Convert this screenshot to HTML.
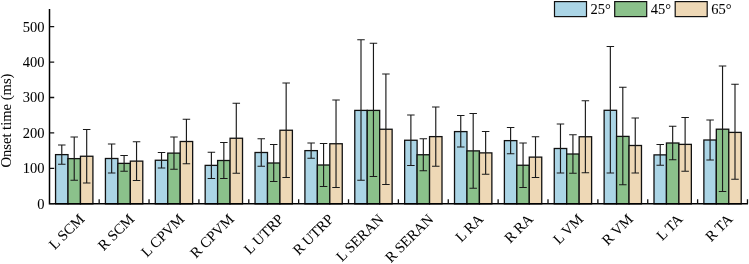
<!DOCTYPE html>
<html><head><meta charset="utf-8"><style>
html,body{margin:0;padding:0;background:#fff;width:749px;height:264px;overflow:hidden;}
svg{display:block;font-family:"Liberation Serif",serif;}
</style></head><body>
<svg width="749" height="264" viewBox="0 0 749 264">
<rect width="749" height="264" fill="#fff"/>
<g><rect x="55.56" y="154.62" width="12.45" height="49.22" fill="#abd5e6" stroke="#111" stroke-width="1.3"/><rect x="68.01" y="158.62" width="12.45" height="45.22" fill="#8bc18b" stroke="#111" stroke-width="1.3"/><rect x="80.46" y="156.25" width="12.45" height="47.60" fill="#eed8b6" stroke="#111" stroke-width="1.3"/><rect x="105.43" y="158.50" width="12.45" height="45.35" fill="#abd5e6" stroke="#111" stroke-width="1.3"/><rect x="117.88" y="163.38" width="12.45" height="40.47" fill="#8bc18b" stroke="#111" stroke-width="1.3"/><rect x="130.33" y="161.12" width="12.45" height="42.72" fill="#eed8b6" stroke="#111" stroke-width="1.3"/><rect x="155.30" y="160.25" width="12.45" height="43.60" fill="#abd5e6" stroke="#111" stroke-width="1.3"/><rect x="167.75" y="153.12" width="12.45" height="50.72" fill="#8bc18b" stroke="#111" stroke-width="1.3"/><rect x="180.20" y="141.50" width="12.45" height="62.35" fill="#eed8b6" stroke="#111" stroke-width="1.3"/><rect x="205.17" y="165.38" width="12.45" height="38.47" fill="#abd5e6" stroke="#111" stroke-width="1.3"/><rect x="217.62" y="160.50" width="12.45" height="43.35" fill="#8bc18b" stroke="#111" stroke-width="1.3"/><rect x="230.07" y="138.25" width="12.45" height="65.60" fill="#eed8b6" stroke="#111" stroke-width="1.3"/><rect x="255.04" y="152.50" width="12.45" height="51.35" fill="#abd5e6" stroke="#111" stroke-width="1.3"/><rect x="267.49" y="163.00" width="12.45" height="40.85" fill="#8bc18b" stroke="#111" stroke-width="1.3"/><rect x="279.94" y="130.25" width="12.45" height="73.60" fill="#eed8b6" stroke="#111" stroke-width="1.3"/><rect x="304.91" y="150.62" width="12.45" height="53.22" fill="#abd5e6" stroke="#111" stroke-width="1.3"/><rect x="317.36" y="165.00" width="12.45" height="38.85" fill="#8bc18b" stroke="#111" stroke-width="1.3"/><rect x="329.81" y="143.75" width="12.45" height="60.10" fill="#eed8b6" stroke="#111" stroke-width="1.3"/><rect x="354.78" y="110.40" width="12.45" height="93.45" fill="#abd5e6" stroke="#111" stroke-width="1.3"/><rect x="367.23" y="110.40" width="12.45" height="93.45" fill="#8bc18b" stroke="#111" stroke-width="1.3"/><rect x="379.68" y="129.25" width="12.45" height="74.60" fill="#eed8b6" stroke="#111" stroke-width="1.3"/><rect x="404.65" y="140.25" width="12.45" height="63.60" fill="#abd5e6" stroke="#111" stroke-width="1.3"/><rect x="417.10" y="154.75" width="12.45" height="49.10" fill="#8bc18b" stroke="#111" stroke-width="1.3"/><rect x="429.55" y="136.62" width="12.45" height="67.22" fill="#eed8b6" stroke="#111" stroke-width="1.3"/><rect x="454.52" y="131.60" width="12.45" height="72.25" fill="#abd5e6" stroke="#111" stroke-width="1.3"/><rect x="466.97" y="150.88" width="12.45" height="52.97" fill="#8bc18b" stroke="#111" stroke-width="1.3"/><rect x="479.42" y="152.88" width="12.45" height="50.97" fill="#eed8b6" stroke="#111" stroke-width="1.3"/><rect x="504.39" y="140.62" width="12.45" height="63.22" fill="#abd5e6" stroke="#111" stroke-width="1.3"/><rect x="516.84" y="165.25" width="12.45" height="38.60" fill="#8bc18b" stroke="#111" stroke-width="1.3"/><rect x="529.29" y="157.12" width="12.45" height="46.72" fill="#eed8b6" stroke="#111" stroke-width="1.3"/><rect x="554.26" y="148.50" width="12.45" height="55.35" fill="#abd5e6" stroke="#111" stroke-width="1.3"/><rect x="566.71" y="154.00" width="12.45" height="49.85" fill="#8bc18b" stroke="#111" stroke-width="1.3"/><rect x="579.16" y="136.75" width="12.45" height="67.10" fill="#eed8b6" stroke="#111" stroke-width="1.3"/><rect x="604.13" y="110.30" width="12.45" height="93.55" fill="#abd5e6" stroke="#111" stroke-width="1.3"/><rect x="616.58" y="136.40" width="12.45" height="67.45" fill="#8bc18b" stroke="#111" stroke-width="1.3"/><rect x="629.03" y="145.50" width="12.45" height="58.35" fill="#eed8b6" stroke="#111" stroke-width="1.3"/><rect x="654.00" y="154.88" width="12.45" height="48.97" fill="#abd5e6" stroke="#111" stroke-width="1.3"/><rect x="666.45" y="143.00" width="12.45" height="60.85" fill="#8bc18b" stroke="#111" stroke-width="1.3"/><rect x="678.90" y="144.38" width="12.45" height="59.47" fill="#eed8b6" stroke="#111" stroke-width="1.3"/><rect x="703.87" y="140.00" width="12.45" height="63.85" fill="#abd5e6" stroke="#111" stroke-width="1.3"/><rect x="716.32" y="129.20" width="12.45" height="74.65" fill="#8bc18b" stroke="#111" stroke-width="1.3"/><rect x="728.77" y="132.40" width="12.45" height="71.45" fill="#eed8b6" stroke="#111" stroke-width="1.3"/><path d="M61.78 145.00V164.25M58.03 145.00H65.53M58.03 164.25H65.53" stroke="#1a1a1a" stroke-width="1.15" fill="none"/><path d="M74.23 137.00V180.25M70.48 137.00H77.98M70.48 180.25H77.98" stroke="#1a1a1a" stroke-width="1.15" fill="none"/><path d="M86.69 129.50V183.00M82.94 129.50H90.44M82.94 183.00H90.44" stroke="#1a1a1a" stroke-width="1.15" fill="none"/><path d="M111.65 144.00V173.00M107.90 144.00H115.40M107.90 173.00H115.40" stroke="#1a1a1a" stroke-width="1.15" fill="none"/><path d="M124.10 155.50V171.25M120.35 155.50H127.85M120.35 171.25H127.85" stroke="#1a1a1a" stroke-width="1.15" fill="none"/><path d="M136.55 141.75V180.50M132.80 141.75H140.30M132.80 180.50H140.30" stroke="#1a1a1a" stroke-width="1.15" fill="none"/><path d="M161.53 152.50V168.00M157.78 152.50H165.28M157.78 168.00H165.28" stroke="#1a1a1a" stroke-width="1.15" fill="none"/><path d="M173.97 137.00V169.25M170.22 137.00H177.72M170.22 169.25H177.72" stroke="#1a1a1a" stroke-width="1.15" fill="none"/><path d="M186.42 119.25V163.75M182.67 119.25H190.17M182.67 163.75H190.17" stroke="#1a1a1a" stroke-width="1.15" fill="none"/><path d="M211.39 152.25V178.50M207.64 152.25H215.14M207.64 178.50H215.14" stroke="#1a1a1a" stroke-width="1.15" fill="none"/><path d="M223.84 142.50V178.50M220.09 142.50H227.59M220.09 178.50H227.59" stroke="#1a1a1a" stroke-width="1.15" fill="none"/><path d="M236.29 103.25V173.25M232.54 103.25H240.04M232.54 173.25H240.04" stroke="#1a1a1a" stroke-width="1.15" fill="none"/><path d="M261.26 138.75V166.25M257.51 138.75H265.01M257.51 166.25H265.01" stroke="#1a1a1a" stroke-width="1.15" fill="none"/><path d="M273.71 144.50V181.50M269.96 144.50H277.46M269.96 181.50H277.46" stroke="#1a1a1a" stroke-width="1.15" fill="none"/><path d="M286.16 83.00V177.50M282.41 83.00H289.91M282.41 177.50H289.91" stroke="#1a1a1a" stroke-width="1.15" fill="none"/><path d="M311.13 143.00V158.25M307.38 143.00H314.88M307.38 158.25H314.88" stroke="#1a1a1a" stroke-width="1.15" fill="none"/><path d="M323.58 143.50V186.50M319.83 143.50H327.33M319.83 186.50H327.33" stroke="#1a1a1a" stroke-width="1.15" fill="none"/><path d="M336.03 100.00V187.50M332.28 100.00H339.78M332.28 187.50H339.78" stroke="#1a1a1a" stroke-width="1.15" fill="none"/><path d="M361.00 39.75V180.25M357.25 39.75H364.75M357.25 180.25H364.75" stroke="#1a1a1a" stroke-width="1.15" fill="none"/><path d="M373.45 43.25V176.50M369.70 43.25H377.20M369.70 176.50H377.20" stroke="#1a1a1a" stroke-width="1.15" fill="none"/><path d="M385.90 74.00V184.50M382.15 74.00H389.65M382.15 184.50H389.65" stroke="#1a1a1a" stroke-width="1.15" fill="none"/><path d="M410.88 115.00V165.50M407.12 115.00H414.62M407.12 165.50H414.62" stroke="#1a1a1a" stroke-width="1.15" fill="none"/><path d="M423.32 138.75V170.75M419.57 138.75H427.07M419.57 170.75H427.07" stroke="#1a1a1a" stroke-width="1.15" fill="none"/><path d="M435.77 107.00V166.25M432.02 107.00H439.52M432.02 166.25H439.52" stroke="#1a1a1a" stroke-width="1.15" fill="none"/><path d="M460.75 115.50V147.00M457.00 115.50H464.50M457.00 147.00H464.50" stroke="#1a1a1a" stroke-width="1.15" fill="none"/><path d="M473.19 113.50V188.25M469.44 113.50H476.94M469.44 188.25H476.94" stroke="#1a1a1a" stroke-width="1.15" fill="none"/><path d="M485.64 131.50V174.25M481.89 131.50H489.39M481.89 174.25H489.39" stroke="#1a1a1a" stroke-width="1.15" fill="none"/><path d="M510.61 127.50V153.75M506.86 127.50H514.37M506.86 153.75H514.37" stroke="#1a1a1a" stroke-width="1.15" fill="none"/><path d="M523.06 143.00V187.50M519.31 143.00H526.81M519.31 187.50H526.81" stroke="#1a1a1a" stroke-width="1.15" fill="none"/><path d="M535.51 136.75V177.50M531.76 136.75H539.26M531.76 177.50H539.26" stroke="#1a1a1a" stroke-width="1.15" fill="none"/><path d="M560.48 124.00V173.00M556.73 124.00H564.23M556.73 173.00H564.23" stroke="#1a1a1a" stroke-width="1.15" fill="none"/><path d="M572.93 134.75V173.25M569.18 134.75H576.68M569.18 173.25H576.68" stroke="#1a1a1a" stroke-width="1.15" fill="none"/><path d="M585.38 100.75V172.75M581.63 100.75H589.13M581.63 172.75H589.13" stroke="#1a1a1a" stroke-width="1.15" fill="none"/><path d="M610.35 46.50V173.00M606.60 46.50H614.10M606.60 173.00H614.10" stroke="#1a1a1a" stroke-width="1.15" fill="none"/><path d="M622.80 87.25V184.75M619.05 87.25H626.55M619.05 184.75H626.55" stroke="#1a1a1a" stroke-width="1.15" fill="none"/><path d="M635.25 118.00V173.00M631.50 118.00H639.00M631.50 173.00H639.00" stroke="#1a1a1a" stroke-width="1.15" fill="none"/><path d="M660.22 144.50V165.25M656.47 144.50H663.97M656.47 165.25H663.97" stroke="#1a1a1a" stroke-width="1.15" fill="none"/><path d="M672.67 126.25V159.75M668.92 126.25H676.42M668.92 159.75H676.42" stroke="#1a1a1a" stroke-width="1.15" fill="none"/><path d="M685.12 117.50V171.25M681.38 117.50H688.88M681.38 171.25H688.88" stroke="#1a1a1a" stroke-width="1.15" fill="none"/><path d="M710.09 120.00V160.00M706.34 120.00H713.84M706.34 160.00H713.84" stroke="#1a1a1a" stroke-width="1.15" fill="none"/><path d="M722.54 66.00V191.50M718.79 66.00H726.29M718.79 191.50H726.29" stroke="#1a1a1a" stroke-width="1.15" fill="none"/><path d="M735.00 84.25V179.25M731.25 84.25H738.75M731.25 179.25H738.75" stroke="#1a1a1a" stroke-width="1.15" fill="none"/></g>
<path d="M49.5 9V204.54999999999998M48.8 203.85H748" stroke="#000" stroke-width="1.5" fill="none"/><path d="M49.5 203.70H54.2M49.5 168.30H54.2M49.5 132.90H54.2M49.5 97.50H54.2M49.5 62.10H54.2M49.5 26.70H54.2M99.17 203.85V199.2M149.04 203.85V199.2M198.91 203.85V199.2M248.78 203.85V199.2M298.65 203.85V199.2M348.52 203.85V199.2M398.39 203.85V199.2M448.26 203.85V199.2M498.13 203.85V199.2M548.00 203.85V199.2M597.87 203.85V199.2M647.74 203.85V199.2M697.61 203.85V199.2M747.48 203.85V199.2" stroke="#111" stroke-width="1.3" fill="none"/>
<g opacity="0.999" font-family="Liberation Serif" font-size="14.5" fill="#000" stroke="#000" stroke-width="0.06"><text x="44.4" y="208.60" text-anchor="end">0</text><text x="44.4" y="173.20" text-anchor="end">100</text><text x="44.4" y="137.80" text-anchor="end">200</text><text x="44.4" y="102.40" text-anchor="end">300</text><text x="44.4" y="67.00" text-anchor="end">400</text><text x="44.4" y="31.60" text-anchor="end">500</text><text x="85.14" y="220.00" font-size="14.6" text-anchor="end" transform="rotate(-45 85.14 220.00)">L SCM</text><text x="135.00" y="220.00" font-size="14.6" text-anchor="end" transform="rotate(-45 135.00 220.00)">R SCM</text><text x="184.88" y="220.00" font-size="14.6" text-anchor="end" transform="rotate(-45 184.88 220.00)">L CPVM</text><text x="234.74" y="220.00" font-size="14.6" text-anchor="end" transform="rotate(-45 234.74 220.00)">R CPVM</text><text x="284.61" y="220.00" font-size="14.6" text-anchor="end" transform="rotate(-45 284.61 220.00)">L UTRP</text><text x="334.48" y="220.00" font-size="14.6" text-anchor="end" transform="rotate(-45 334.48 220.00)">R UTRP</text><text x="384.35" y="220.00" font-size="14.6" text-anchor="end" transform="rotate(-45 384.35 220.00)">L SERAN</text><text x="434.22" y="220.00" font-size="14.6" text-anchor="end" transform="rotate(-45 434.22 220.00)">R SERAN</text><text x="484.09" y="220.00" font-size="14.6" text-anchor="end" transform="rotate(-45 484.09 220.00)">L RA</text><text x="533.96" y="220.00" font-size="14.6" text-anchor="end" transform="rotate(-45 533.96 220.00)">R RA</text><text x="583.83" y="220.00" font-size="14.6" text-anchor="end" transform="rotate(-45 583.83 220.00)">L VM</text><text x="633.70" y="220.00" font-size="14.6" text-anchor="end" transform="rotate(-45 633.70 220.00)">R VM</text><text x="683.57" y="220.00" font-size="14.6" text-anchor="end" transform="rotate(-45 683.57 220.00)">L TA</text><text x="733.44" y="220.00" font-size="14.6" text-anchor="end" transform="rotate(-45 733.44 220.00)">R TA</text><text x="0" y="0" text-anchor="middle" font-size="14.6" transform="translate(10.8 120.6) rotate(-90)">Onset time (ms)</text><rect x="554.50" y="1.6" width="32" height="15" fill="#abd5e6" stroke="#111" stroke-width="1.2"/><text x="590.50" y="14">25°</text><rect x="614.70" y="1.6" width="32" height="15" fill="#8bc18b" stroke="#111" stroke-width="1.2"/><text x="650.70" y="14">45°</text><rect x="675.20" y="1.6" width="32" height="15" fill="#eed8b6" stroke="#111" stroke-width="1.2"/><text x="711.20" y="14">65°</text></g>
</svg>
</body></html>
